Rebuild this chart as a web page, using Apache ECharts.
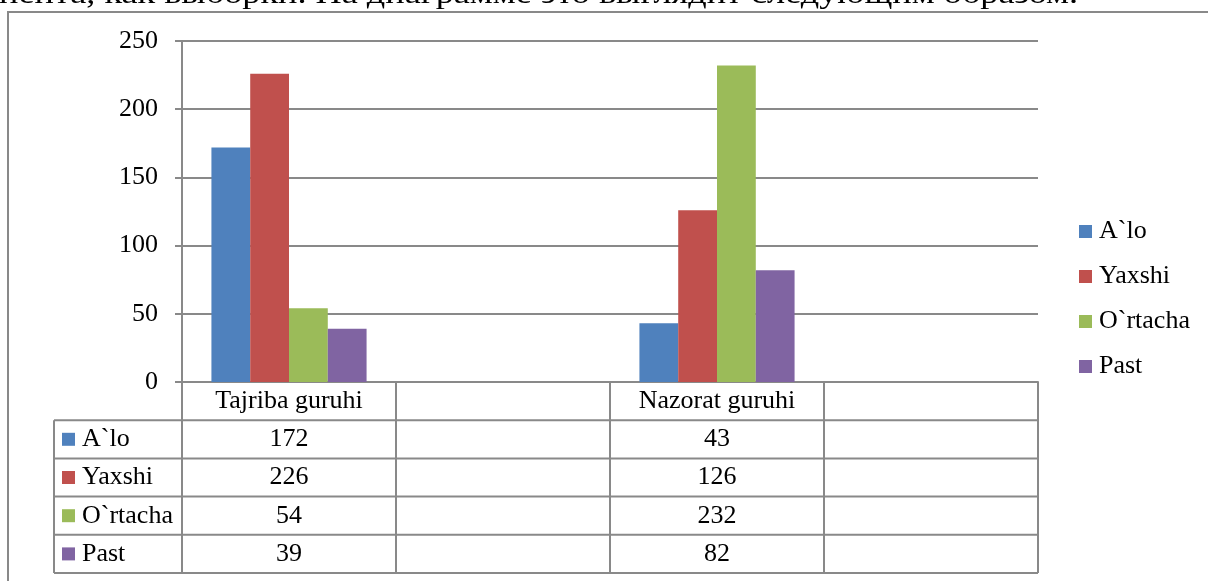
<!DOCTYPE html>
<html>
<head>
<meta charset="utf-8">
<script src="https://cdn.jsdelivr.net/npm/echarts@6/dist/echarts.min.js"></script>
<style>
  html, body { margin: 0; padding: 0; background: #fff; }
  #chart { width: 1208px; height: 581px; }
</style>
</head>
<body>
<div id="chart"></div>
<script>
// data
const categories = ["Tajriba guruhi", "", "Nazorat guruhi", ""]
const seriesNames = ["A`lo", "Yaxshi", "O`rtacha", "Past"]
const aloValues = [172, null, 43, null]
const yaxshiValues = [226, null, 126, null]
const ortachaValues = [54, null, 232, null]
const pastValues = [39, null, 82, null]
const yTicks = [0, 50, 100, 150, 200, 250]

const seriesValues = [aloValues, yaxshiValues, ortachaValues, pastValues]
const colors = ["#4F81BD", "#C0504D", "#9BBB59", "#8064A2"]
const lineColor = "#898989"
const font = "'Liberation Serif', 'Times New Roman', serif"

// layout
const gridLeft = 182
const gridRight = 1038
const gridTop = 41
const gridBottom = 382
const rowH = 38.2
const tableLeft = 54

const chart = echarts.init(document.getElementById("chart"))

// table axes: one x axis per series row, labels = values
const rowAxes = seriesValues.map((vals, k) => ({
  type: "category",
  position: "bottom",
  offset: rowH * (k + 1),
  data: categories,
  axisLine: { show: false },
  axisTick: { show: false },
  splitLine: { show: false },
  axisLabel: {
    interval: 0,
    margin: 0,
    lineHeight: rowH,
    fontFamily: font,
    fontSize: 26,
    color: "#000",
    formatter: (v, i) => (vals[i] == null ? "" : String(vals[i])),
  },
}))

// table horizontal lines + left border
const tableLines = []
for (let k = 1; k <= 5; k++) {
  const y = gridBottom + rowH * k
  tableLines.push({
    type: "line",
    shape: { x1: tableLeft, y1: y, x2: gridRight, y2: y },
    style: { stroke: lineColor, lineWidth: 2 },
  })
}
tableLines.push({
  type: "line",
  shape: { x1: tableLeft, y1: gridBottom + rowH, x2: tableLeft, y2: gridBottom + rowH * 5 },
  style: { stroke: lineColor, lineWidth: 2 },
})

const option = {
  animation: false,
  backgroundColor: "#fff",
  color: colors,
  grid: {
    left: gridLeft,
    right: 1208 - gridRight,
    top: gridTop,
    bottom: 581 - gridBottom,
    containLabel: false,
  },
  legend: [
    {
      orient: "vertical",
      left: 1079,
      top: 209,
      padding: 0,
      selectedMode: false,
      icon: "rect",
      itemWidth: 13,
      itemHeight: 13,
      itemGap: 0,
      textStyle: { fontFamily: font, fontSize: 26, color: "#000", lineHeight: 45, padding: [0, 0, 0, 2] },
      data: seriesNames,
    },
    {
      orient: "vertical",
      left: 62,
      top: gridBottom + rowH,
      selectedMode: false,
      icon: "rect",
      itemWidth: 13,
      itemHeight: 13,
      itemGap: 0,
      padding: 0,
      textStyle: { fontFamily: font, fontSize: 26, color: "#000", lineHeight: rowH, padding: [0, 0, 0, 2] },
      data: seriesNames,
    },
  ],
  xAxis: [
    {
      type: "category",
      data: categories,
      axisLine: { show: true, lineStyle: { color: lineColor, width: 2 } },
      axisTick: {
        show: true,
        interval: 0,
        length: rowH * 5,
        lineStyle: { color: lineColor, width: 2 },
      },
      axisLabel: {
        interval: 0,
        margin: 0,
        lineHeight: rowH,
        fontFamily: font,
        fontSize: 26,
        color: "#000",
      },
      splitLine: { show: false },
    },
    ...rowAxes,
  ],
  yAxis: {
    type: "value",
    min: 0,
    max: 250,
    interval: 50,
    axisLine: { show: true, lineStyle: { color: lineColor, width: 2 } },
    axisTick: { show: true, length: 7, lineStyle: { color: lineColor, width: 2 } },
    splitLine: { show: true, lineStyle: { color: lineColor, width: 2 } },
    axisLabel: {
      margin: 24,
      fontFamily: font,
      fontSize: 26,
      color: "#000",
      formatter: (v) => (yTicks.includes(v) ? String(v) : ""),
    },
  },
  series: seriesNames.map((name, i) => ({
    name: name,
    type: "bar",
    data: seriesValues[i],
    barGap: "0%",
    barCategoryGap: "27.5%",
    itemStyle: { color: colors[i] },
  })),
  graphic: [
    {
      type: "rect",
      z: -1,
      shape: { x: 8, y: 12, width: 1400, height: 800 },
      style: { fill: "none", stroke: lineColor, lineWidth: 2 },
    },
    {
      type: "text",
      x: -1,
      y: 10,
      scaleX: 1.25,
      style: {
        text: "нента, как выборки. На диаграмме это выглядит следующим образом.",
        fontFamily: font,
        fontSize: 29,
        fill: "#000",
        verticalAlign: "bottom",
      },
    },
    ...tableLines,
  ],
}

chart.setOption(option)
</script>
</body>
</html>
